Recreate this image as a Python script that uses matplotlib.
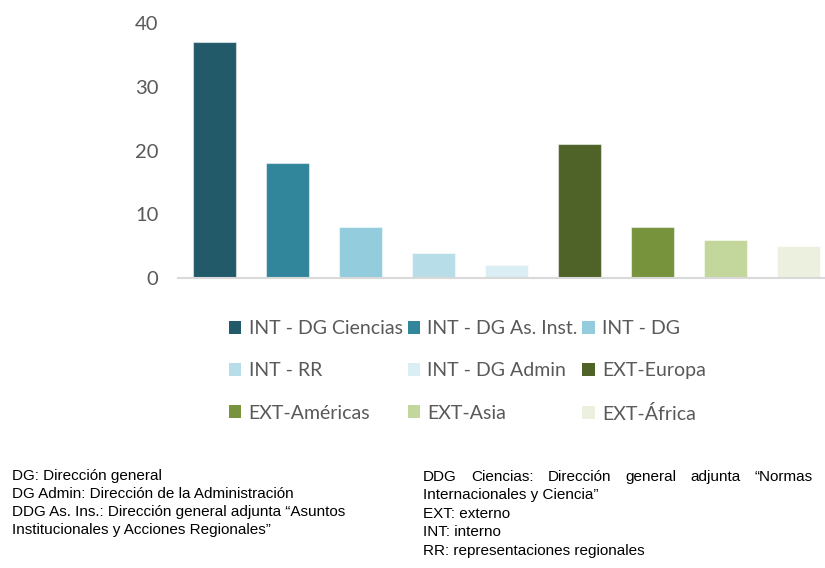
import matplotlib
matplotlib.use("Agg")
import matplotlib.pyplot as plt
from matplotlib.patches import Patch
from matplotlib import font_manager

# data
categorias = ["INT - DG Ciencias", "INT - DG As. Inst.", "INT - DG", "INT - RR",
              "INT - DG Admin", "EXT-Europa", "EXT-Américas", "EXT-Asia", "EXT-África"]
valores = [37, 18, 8, 4, 2, 21, 8, 6, 5]
colores = ["#225A6A", "#31869B", "#93CDDD", "#B7DEE8", "#DAEEF3",
           "#4F6228", "#77933C", "#C3D69B", "#EBF1DE"]

notas_izq = ["DG: Dirección general",
             "DG Admin: Dirección de la Administración",
             "DDG As. Ins.: Dirección general adjunta “Asuntos",
             "Institucionales y Acciones Regionales”"]
notas_der = ["DDG Ciencias: Dirección general adjunta “Normas",
             "Internacionales y Ciencia”",
             "EXT: externo",
             "INT: interno",
             "RR: representaciones regionales"]

names = {f.name for f in font_manager.fontManager.ttflist}
narrow = "Liberation Sans Narrow" if "Liberation Sans Narrow" in names else "Liberation Sans"
plt.rcParams["font.family"] = ["Lato", "DejaVu Sans"]

W, H = 825, 568
fig = plt.figure(figsize=(W / 100, H / 100), dpi=100)
ax = fig.add_axes([178 / W, 1 - 278 / H, (W - 178) / W, (278 - 23) / H])

x = range(len(valores))
ax.bar(x, valores, width=0.59, color=colores, edgecolor=(1, 1, 1, 0.5), linewidth=0.8)
ax.set_xlim(-0.5, -0.5 + (W - 178) / 73)
ax.set_ylim(0, 40)
ax.set_yticks([0, 10, 20, 30, 40])
ax.set_xticks([])
ax.tick_params(axis="y", length=0, pad=14, labelsize=14.5, labelcolor="#595959")
for s in ["top", "right", "left"]:
    ax.spines[s].set_visible(False)
ax.spines["bottom"].set_color("#D9D9D9")
ax.spines["bottom"].set_linewidth(1.5)

# legend in rows of three (matplotlib fills columns first)
handles = [Patch(facecolor=c, edgecolor="none") for c in colores]
orden = [0, 3, 6, 1, 4, 7, 2, 5, 8]
fig.legend([handles[i] for i in orden], [categorias[i] for i in orden],
           ncol=3, loc="upper left", bbox_to_anchor=(229 / W, 1 - 320 / H),
           frameon=False, fontsize=14, labelcolor="#595959",
           handlelength=0.63, handleheight=0.63, handletextpad=0.38,
           labelspacing=1.3, columnspacing=0.25, borderpad=0, borderaxespad=0)

# footnotes
fs = 11
for i, t in enumerate(notas_izq):
    fig.text(12 / W, 1 - (476 + 18 * i) / H, t, family=narrow, fontsize=fs,
             va="center", ha="left")
for i, t in enumerate(notas_der[1:], start=1):
    fig.text(423 / W, 1 - (477 + 18.5 * i) / H, t, family=narrow, fontsize=fs,
             va="center", ha="left")

# first right-hand line is justified between x=423 and x=813
palabras = notas_der[0].split()
textos = [fig.text(0, 1 - 477 / H, p, family=narrow, fontsize=fs, va="center", ha="left")
          for p in palabras]
fig.canvas.draw()
r = fig.canvas.get_renderer()
anchos = [t.get_window_extent(r).width for t in textos]
hueco = (813 - 423 - sum(anchos)) / (len(palabras) - 1)
pos = 423
for t, a in zip(textos, anchos):
    t.set_x(pos / W)
    pos += a + hueco

fig.savefig("out.png", dpi=100)
